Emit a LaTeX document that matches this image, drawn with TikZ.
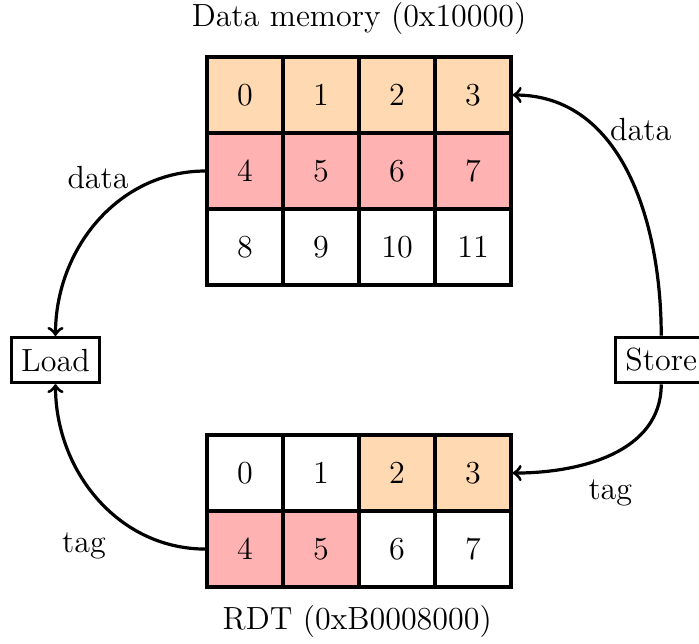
\documentclass[tikz,border=0pt]{standalone}
\begin{document}
\begin{tikzpicture}[
  font=\large,
  cell/.style={draw, very thick, minimum size=1cm, inner sep=0pt, anchor=center},
  opfill/.style={fill=orange!30},
  rdfill/.style={fill=red!30},
  opbox/.style={draw, very thick, inner xsep=3.6pt, inner ysep=4.2pt},
  conn/.style={->, very thick},
  lbl/.style={inner sep=0pt}
]
\useasboundingbox (0,0) rectangle (9.197,-8.461);
% data memory
\foreach \i in {0,...,11}{
  \pgfmathtruncatemacro{\c}{mod(\i,4)}
  \pgfmathtruncatemacro{\r}{div(\i,4)}
  \ifnum\r=0 \def\st{opfill}\else\ifnum\r=1 \def\st{rdfill}\else\def\st{}\fi\fi
  \node[cell,\st] (m\i) at (3.224+\c,-1.25-\r) {\i};
}
% RDT
\foreach \i/\st in {0/{},1/{},2/opfill,3/opfill,4/rdfill,5/rdfill,6/{},7/{}}{
  \pgfmathtruncatemacro{\c}{mod(\i,4)}
  \pgfmathtruncatemacro{\r}{div(\i,4)}
  \node[cell,\st] (r\i) at (3.224+\c,-6.224-\r) {\i};
}
\node (dmt) at (4.724,-0.237) {Data memory (0x10000)};
\node (rdtt) at (4.70,-8.18) {RDT (0xB0008000)};
\node[opbox] (load) at (0.73,-4.737) {Load};
\node[opbox] (store) at (8.70,-4.737) {Store};
\draw[conn] (m4.west) to[out=180,in=90] (load.north);
\draw[conn] (r4.west) to[out=180,in=-90] (load.south);
\draw[conn] (store.north) to[out=90,in=0] (m3.east);
\draw[conn] (store.south) to[out=-90,in=0] (r3.east);
\node[lbl] (l1) at (1.29,-2.34) {data};
\node[lbl] (l2) at (8.43,-1.71) {data};
\node[lbl] (l3) at (8.03,-6.49) {tag};
\node[lbl] (l4) at (1.105,-7.18) {tag};
\end{tikzpicture}
\end{document}
